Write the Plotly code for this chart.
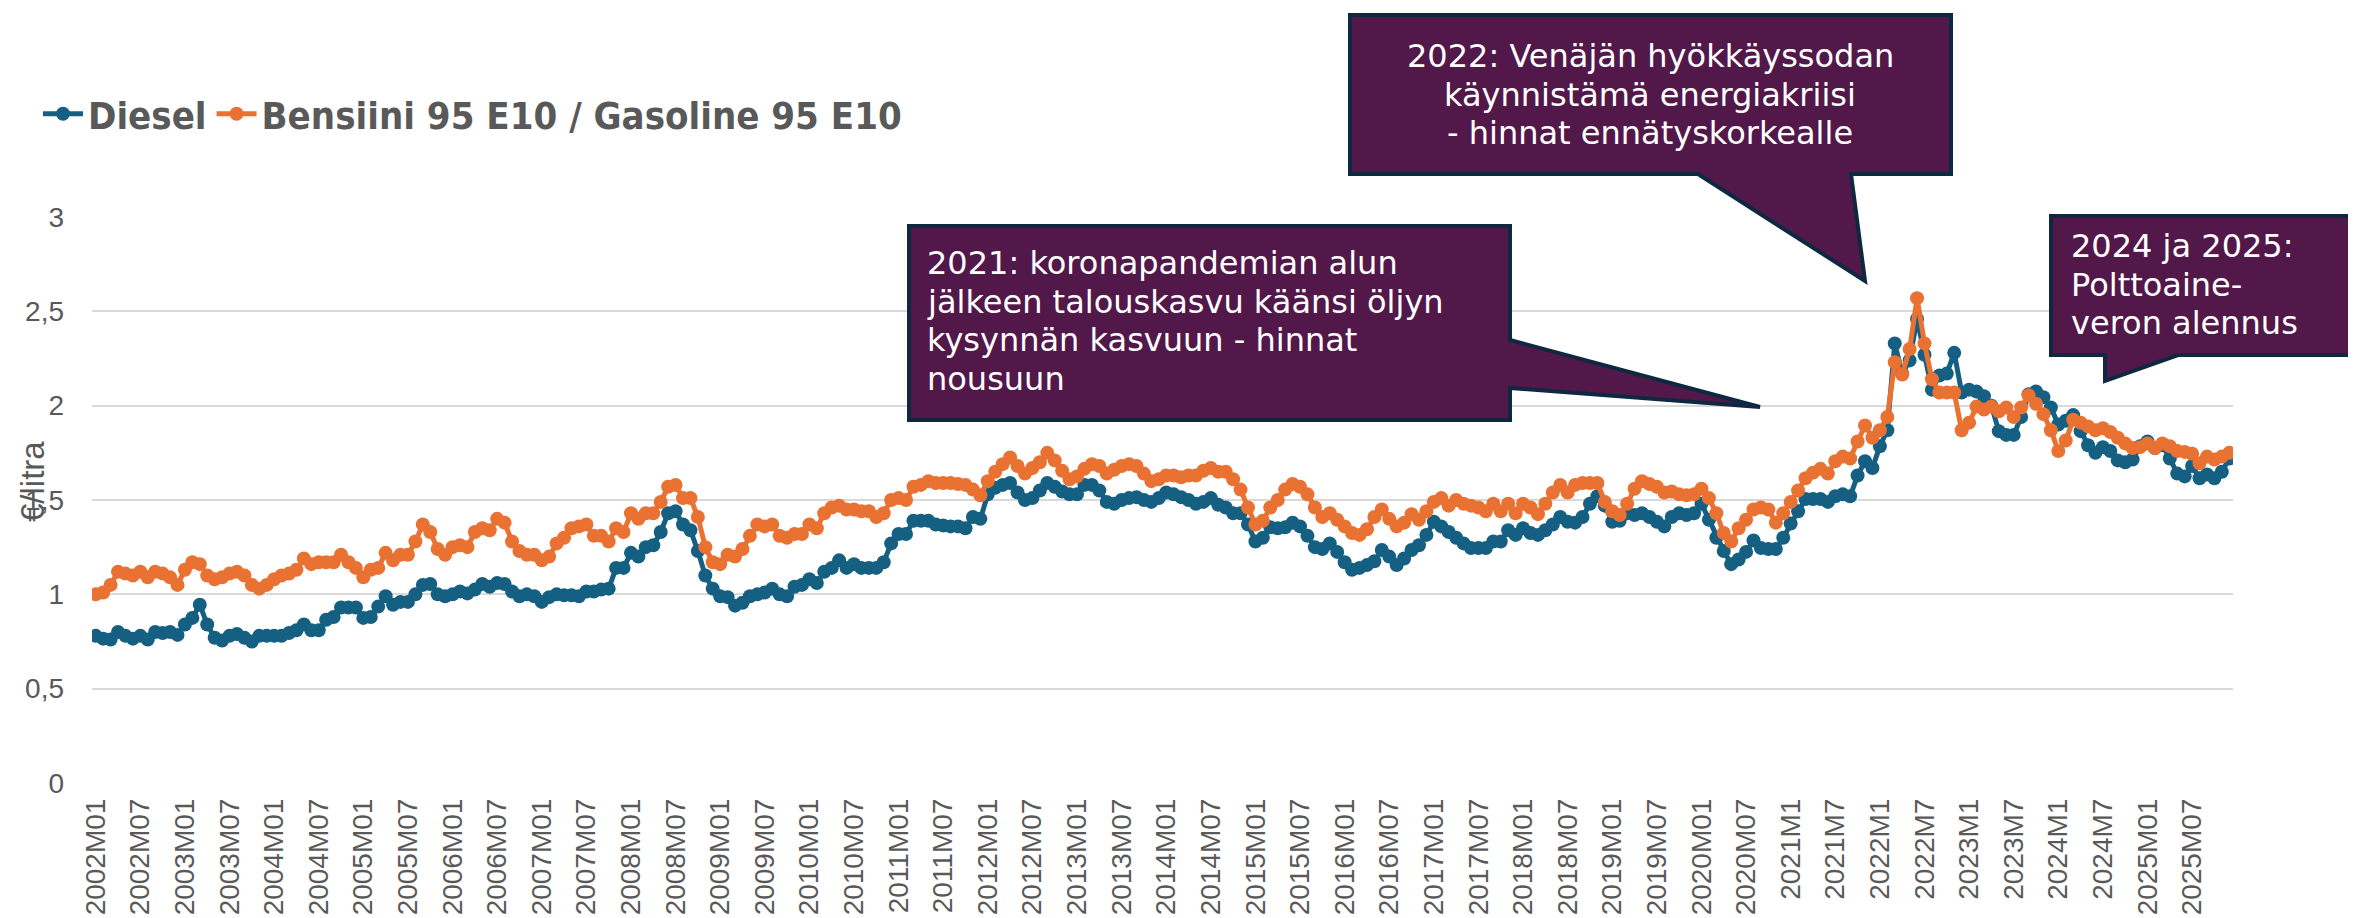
import plotly.graph_objects as go

# ---------------- data ----------------
YEARS = list(range(2002, 2026))
MONTHS = [f"{y}M{m:02d}" for y in YEARS for m in range(1, 13)]

DIESEL = [
    0.78, 0.765, 0.76, 0.80, 0.78, 0.765, 0.78, 0.76, 0.80, 0.795, 0.80, 0.785,   # 2002
    0.84, 0.875, 0.945, 0.84, 0.77, 0.755, 0.78, 0.79, 0.77, 0.75, 0.78, 0.78,    # 2003
    0.78, 0.78, 0.795, 0.81, 0.84, 0.81, 0.81, 0.865, 0.88, 0.93, 0.93, 0.93,     # 2004
    0.875, 0.88, 0.935, 0.99, 0.945, 0.96, 0.96, 1.00, 1.05, 1.055, 1.00, 0.99,   # 2005
    1.00, 1.015, 1.005, 1.025, 1.055, 1.04, 1.06, 1.055, 1.015, 0.99, 1.00, 0.99, # 2006
    0.96, 0.985, 1.00, 0.995, 0.995, 0.99, 1.015, 1.015, 1.025, 1.03, 1.14, 1.14, # 2007
    1.22, 1.20, 1.25, 1.26, 1.33, 1.43, 1.44, 1.37, 1.34, 1.23, 1.10, 1.03,       # 2008
    0.99, 0.985, 0.94, 0.955, 0.99, 1.00, 1.01, 1.03, 1.00, 0.99, 1.04, 1.05,     # 2009
    1.08, 1.06, 1.12, 1.14, 1.18, 1.14, 1.16, 1.14, 1.14, 1.14, 1.17, 1.27,       # 2010
    1.32, 1.32, 1.39, 1.39, 1.39, 1.37, 1.365, 1.36, 1.36, 1.35, 1.41, 1.40,      # 2011
    1.53, 1.565, 1.58, 1.59, 1.54, 1.50, 1.51, 1.55, 1.59, 1.57, 1.545, 1.53,     # 2012
    1.53, 1.58, 1.58, 1.55, 1.49, 1.48, 1.50, 1.51, 1.515, 1.50, 1.49, 1.51,      # 2013
    1.54, 1.53, 1.515, 1.50, 1.48, 1.49, 1.51, 1.475, 1.46, 1.43, 1.43, 1.37,     # 2014
    1.28, 1.30, 1.355, 1.35, 1.355, 1.38, 1.36, 1.31, 1.25, 1.24, 1.27, 1.225,    # 2015
    1.17, 1.13, 1.14, 1.155, 1.175, 1.235, 1.20, 1.155, 1.19, 1.235, 1.26, 1.315, # 2016
    1.385, 1.36, 1.33, 1.30, 1.27, 1.245, 1.245, 1.245, 1.28, 1.28, 1.34, 1.315,  # 2017
    1.35, 1.325, 1.315, 1.34, 1.37, 1.41, 1.385, 1.38, 1.41, 1.48, 1.52, 1.47,    # 2018
    1.385, 1.39, 1.43, 1.42, 1.43, 1.41, 1.385, 1.36, 1.41, 1.43, 1.42, 1.43,     # 2019
    1.48, 1.395, 1.30, 1.23, 1.16, 1.185, 1.225, 1.285, 1.245, 1.24, 1.24, 1.30,  # 2020
    1.375, 1.44, 1.505, 1.505, 1.505, 1.49, 1.52, 1.53, 1.52, 1.63, 1.705, 1.67,  # 2021
    1.785, 1.87, 2.33, 2.17, 2.24, 2.46, 2.27, 2.085, 2.16, 2.17, 2.28, 2.07,     # 2022
    2.085, 2.075, 2.05, 2.00, 1.865, 1.845, 1.845, 1.94, 2.06, 2.075, 2.045, 1.99,# 2023
    1.90, 1.92, 1.95, 1.865, 1.79, 1.75, 1.78, 1.76, 1.71, 1.70, 1.715, 1.785,    # 2024
    1.81, 1.775, 1.79, 1.72, 1.64, 1.625, 1.68, 1.615, 1.635, 1.615, 1.65, 1.72,  # 2025
]

GASOLINE = [
    1.00, 1.01, 1.05, 1.12, 1.11, 1.10, 1.12, 1.09, 1.12, 1.11, 1.09, 1.05,       # 2002
    1.13, 1.17, 1.16, 1.10, 1.08, 1.09, 1.11, 1.12, 1.10, 1.05, 1.03, 1.05,       # 2003
    1.08, 1.10, 1.11, 1.13, 1.19, 1.16, 1.17, 1.17, 1.17, 1.21, 1.17, 1.14,       # 2004
    1.09, 1.13, 1.14, 1.22, 1.18, 1.21, 1.21, 1.28, 1.37, 1.33, 1.24, 1.21,       # 2005
    1.25, 1.26, 1.25, 1.33, 1.35, 1.34, 1.40, 1.38, 1.28, 1.23, 1.21, 1.21,       # 2006
    1.18, 1.20, 1.27, 1.30, 1.35, 1.36, 1.37, 1.31, 1.31, 1.28, 1.35, 1.33,       # 2007
    1.43, 1.40, 1.43, 1.43, 1.49, 1.57, 1.58, 1.51, 1.51, 1.41, 1.25, 1.17,       # 2008
    1.16, 1.21, 1.20, 1.24, 1.31, 1.37, 1.36, 1.37, 1.31, 1.30, 1.32, 1.32,       # 2009
    1.37, 1.35, 1.43, 1.46, 1.47, 1.45, 1.45, 1.44, 1.44, 1.41, 1.43, 1.50,       # 2010
    1.51, 1.50, 1.57, 1.58, 1.60, 1.59, 1.59, 1.59, 1.585, 1.58, 1.555, 1.525,    # 2011
    1.60, 1.65, 1.69, 1.725, 1.68, 1.64, 1.67, 1.70, 1.75, 1.71, 1.655, 1.61,     # 2012
    1.625, 1.665, 1.69, 1.68, 1.64, 1.66, 1.68, 1.69, 1.68, 1.64, 1.60, 1.61,     # 2013
    1.63, 1.63, 1.62, 1.63, 1.63, 1.655, 1.67, 1.65, 1.65, 1.61, 1.555, 1.46,     # 2014
    1.37, 1.39, 1.46, 1.50, 1.555, 1.585, 1.57, 1.53, 1.46, 1.41, 1.43, 1.395,    # 2015
    1.36, 1.325, 1.315, 1.345, 1.41, 1.45, 1.40, 1.36, 1.38, 1.425, 1.395, 1.44,  # 2016
    1.49, 1.51, 1.47, 1.50, 1.48, 1.47, 1.46, 1.44, 1.48, 1.44, 1.48, 1.43,       # 2017
    1.48, 1.46, 1.425, 1.48, 1.54, 1.58, 1.54, 1.58, 1.59, 1.59, 1.59, 1.49,      # 2018
    1.44, 1.42, 1.48, 1.56, 1.60, 1.585, 1.57, 1.54, 1.545, 1.53, 1.525, 1.53,    # 2019
    1.56, 1.51, 1.43, 1.325, 1.28, 1.35, 1.395, 1.45, 1.46, 1.45, 1.38, 1.43,     # 2020
    1.49, 1.55, 1.615, 1.645, 1.665, 1.64, 1.705, 1.73, 1.72, 1.81, 1.895, 1.83,  # 2021
    1.87, 1.94, 2.23, 2.165, 2.30, 2.57, 2.33, 2.14, 2.07, 2.07, 2.07, 1.87,      # 2022
    1.91, 1.995, 1.98, 1.995, 1.97, 1.99, 1.94, 1.99, 2.055, 2.01, 1.955, 1.87,   # 2023
    1.76, 1.815, 1.925, 1.91, 1.89, 1.87, 1.88, 1.86, 1.83, 1.80, 1.775, 1.78,    # 2024
    1.80, 1.775, 1.80, 1.785, 1.76, 1.755, 1.745, 1.695, 1.73, 1.715, 1.73, 1.75, # 2025
]

X_TICK_LABELS = [
    "2002M01", "2002M07", "2003M01", "2003M07", "2004M01", "2004M07",
    "2005M01", "2005M07", "2006M01", "2006M07", "2007M01", "2007M07",
    "2008M01", "2008M07", "2009M01", "2009M07", "2010M01", "2010M07",
    "2011M01", "2011M07", "2012M01", "2012M07", "2013M01", "2013M07",
    "2014M01", "2014M07", "2015M01", "2015M07", "2016M01", "2016M07",
    "2017M01", "2017M07", "2018M01", "2018M07", "2019M01", "2019M07",
    "2020M01", "2020M07", "2021M1", "2021M7", "2022M1", "2022M7",
    "2023M1", "2023M7", "2024M1", "2024M7", "2025M01", "2025M07",
]
Y_TICK_VALUES = [0, 0.5, 1, 1.5, 2, 2.5, 3]
Y_TICK_LABELS = ["0", "0,5", "1", "1,5", "2", "2,5", "3"]

SERIES_NAMES = ["Diesel", "Bensiini 95 E10 / Gasoline 95 E10"]
Y_TITLE = "€/litra"

CALLOUT_2021 = ["2021: koronapandemian alun", "jälkeen talouskasvu käänsi öljyn",
                "kysynnän kasvuun - hinnat", "nousuun"]
CALLOUT_2022 = ["2022: Venäjän hyökkäyssodan", "käynnistämä energiakriisi",
                "- hinnat ennätyskorkealle"]
CALLOUT_2024 = ["2024 ja 2025:", "Polttoaine-", "veron alennus"]

# ---------------- styling / layout ----------------
W_FIG, H_FIG = 2356, 918
M_L, M_R, M_T, M_B = 84, 131, 209, 143
PW = W_FIG - M_L - M_R
PH = H_FIG - M_T - M_B

BLUE = "#156082"
ORANGE = "#E97132"
PURPLE = "#52184A"
NAVY = "#0E2841"
GRAY = "#595959"


def px(x):
    return (x - M_L) / PW


def py(y):
    return (M_T + PH - y) / PH


def path(points):
    s = "M " + " L ".join(f"{px(x):.5f},{py(y):.5f}" for x, y in points)
    return s + " Z"


x_tickvals = [MONTHS[i] for i in range(0, len(MONTHS), 6)][: len(X_TICK_LABELS)]

fig = go.Figure()
for name, vals, col in [(SERIES_NAMES[0], DIESEL, BLUE), (SERIES_NAMES[1], GASOLINE, ORANGE)]:
    fig.add_trace(go.Scatter(
        x=MONTHS[: len(vals)], y=vals, name=name, mode="lines+markers",
        line=dict(color=col, width=5),
        marker=dict(color=col, size=14, line=dict(width=0)),
    ))

shapes = [
    dict(type="path", xref="paper", yref="paper", layer="above",
         path=path([(901, 218), (1502, 218), (1502, 332), (1752, 399), (1502, 380),
                    (1502, 412), (901, 412)]),
         fillcolor=PURPLE, line=dict(color=NAVY, width=4)),
    dict(type="path", xref="paper", yref="paper", layer="above",
         path=path([(1342, 7), (1943, 7), (1943, 166), (1843, 166), (1857, 273),
                    (1690, 166), (1342, 166)]),
         fillcolor=PURPLE, line=dict(color=NAVY, width=4)),
    dict(type="path", xref="paper", yref="paper", layer="above",
         path=path([(2043, 208), (2347, 208), (2347, 347), (2170, 347), (2097, 373),
                    (2097, 347), (2043, 347)]),
         fillcolor=PURPLE, line=dict(color=NAVY, width=4)),
]

annotations = []
BOX_FONT = dict(family="DejaVu Sans, Verdana, sans-serif", size=32, color="white")
LS = 38.5
for i, t in enumerate(CALLOUT_2021):
    annotations.append(dict(text=t, xref="paper", yref="paper", x=px(917), y=py(255 + i * LS),
                            xanchor="left", yanchor="middle", showarrow=False, font=BOX_FONT))
for i, t in enumerate(CALLOUT_2022):
    annotations.append(dict(text=t, xref="paper", yref="paper", x=px(1642), y=py(48 + i * LS),
                            xanchor="center", yanchor="middle", showarrow=False, font=BOX_FONT))
for i, t in enumerate(CALLOUT_2024):
    annotations.append(dict(text=t, xref="paper", yref="paper", x=px(2061), y=py(238 + i * LS),
                            xanchor="left", yanchor="middle", showarrow=False, font=BOX_FONT))
annotations.append(dict(text=Y_TITLE, xref="paper", yref="paper", x=px(24), y=py(474),
                        xanchor="center", yanchor="middle", textangle=-90, showarrow=False,
                        font=dict(family="Liberation Sans, Arial, sans-serif", size=33, color=GRAY)))

fig.update_layout(
    width=W_FIG, height=H_FIG,
    margin=dict(l=M_L, r=M_R, t=M_T, b=M_B, autoexpand=False),
    paper_bgcolor="white", plot_bgcolor="white",
    showlegend=True,
    legend=dict(orientation="h", xref="container", yref="container",
                x=30 / W_FIG, y=1 - 106 / H_FIG, xanchor="left", yanchor="middle",
                itemwidth=40, bgcolor="rgba(0,0,0,0)",
                font=dict(family="Liberation Sans Narrow, DejaVu Sans Condensed, Arial Narrow, sans-serif",
                          size=38, color=GRAY, weight="bold")),
    xaxis=dict(type="category", range=[-0.5, len(MONTHS) - 0.5],
               tickmode="array", tickvals=x_tickvals, ticktext=X_TICK_LABELS,
               tickangle=-90, showgrid=False, zeroline=False, showline=False,
               ticks="", ticklabelstandoff=9,
               tickfont=dict(family="Liberation Sans, Arial, sans-serif", size=28, color=GRAY)),
    yaxis=dict(range=[0, 3], tickmode="array", tickvals=Y_TICK_VALUES, ticktext=Y_TICK_LABELS,
               showgrid=True, gridcolor="#D9D9D9", gridwidth=2, zeroline=False, showline=False,
               ticks="", ticklabelstandoff=27,
               tickfont=dict(family="Liberation Sans, Arial, sans-serif", size=28, color=GRAY)),
    shapes=shapes,
    annotations=annotations,
)

fig.write_html("out.html")
